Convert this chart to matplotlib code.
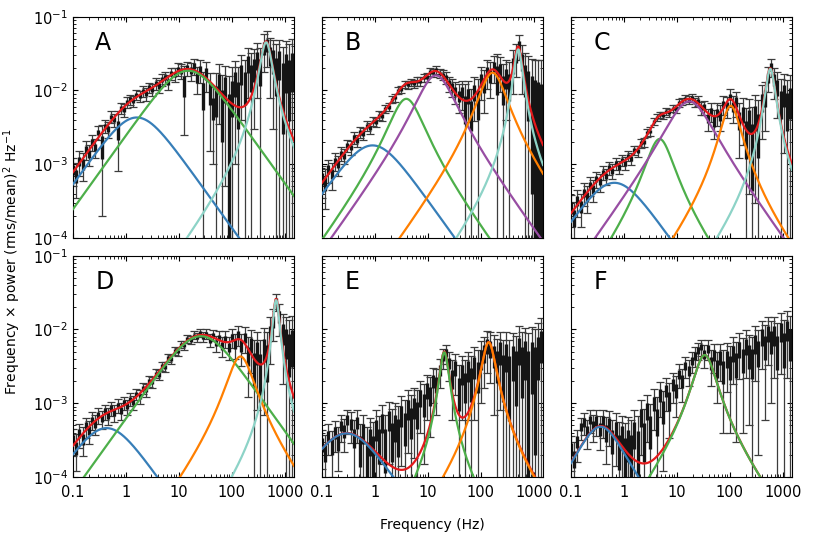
import numpy as np
import matplotlib
matplotlib.use('Agg')
import matplotlib.pyplot as plt

# frequency bins (Hz), shared by all six spectra
freq = [0.100, 0.115, 0.132, 0.151, 0.174, 0.200, 0.229, 0.263, 0.302, 0.347,
        0.398, 0.457, 0.525, 0.603, 0.692, 0.794, 0.912, 1.05, 1.20, 1.38,
        1.58, 1.82, 2.09, 2.40, 2.75, 3.16, 3.63, 4.17, 4.79, 5.50,
        6.31, 7.24, 8.32, 9.55, 11.0, 12.6, 14.5, 16.6, 19.1, 21.9,
        25.1, 28.8, 33.1, 38.0, 43.7, 50.1, 57.5, 66.1, 75.9, 87.1,
        100, 115, 132, 151, 174, 200, 229, 263, 302, 347,
        398, 457, 525, 603, 692, 794, 912, 1047, 1202, 1380]

# frequency x power and its error, in units of 1e-4
pow_A = [8.5, 7.0, 11, 10, 16, 14, 20, 17, 27, 18,
         33, 30, 44, 40, 30, 58, 55, 70, 76, 72,
         88, 84, 98, 90, 110, 104, 125, 115, 140, 150,
         130, 170, 165, 195, 185, 120, 200, 185, 215, 150,
         190, 90, 170, 95, 60, 80, 130, 60, 110, 45,
         90, 130, 80, 170, 120, 230, 160, 200, 260, 190,
         380, 420, 300, 260, 180, 240, 130, 200, 150, 210]
err_A = [3.5, 3.5, 4, 4, 4.5, 4.5, 5, 5, 5.5, 16,
         6.5, 7, 8, 8, 22, 10, 11, 12, 12, 13,
         14, 15, 16, 17, 18, 20, 22, 24, 26, 28,
         30, 32, 35, 38, 40, 95, 45, 50, 55, 60,
         65, 90, 75, 80, 50, 90, 95, 100, 105, 110,
         115, 120, 125, 130, 140, 150, 160, 170, 180, 190,
         200, 210, 220, 230, 240, 250, 260, 270, 280, 290]

pow_B = [6.5, 5.5, 8.5, 7.5, 11, 10, 14, 13, 18, 17,
         23, 21, 27, 26, 33, 31, 38, 37, 46, 45,
         57, 60, 76, 80, 100, 104, 122, 120, 130, 124,
         133, 132, 150, 152, 178, 176, 190, 170, 162, 150,
         125, 112, 98, 85, 95, 60, 85, 50, 95, 70,
         140, 120, 180, 160, 210, 150, 190, 110, 150, 120,
         220, 290, 410, 250, 150, 110, 80, 60, 45, 35]
err_B = [3, 3, 3, 3, 3, 3, 3, 3, 3.5, 3.5,
         4, 4, 4.5, 4.5, 5, 5, 5.5, 5.5, 6, 6.5,
         7, 8, 9, 10, 11, 12, 13, 14, 15, 16,
         17, 18, 19, 20, 21, 22, 23, 24, 25, 27,
         29, 31, 33, 36, 40, 62, 48, 55, 56, 75,
         65, 70, 75, 80, 85, 160, 95, 115, 110, 120,
         130, 140, 150, 160, 170, 180, 190, 200, 210, 220]

pow_C = [2.6, 1.9, 3.2, 2.7, 4.1, 3.6, 5.2, 4.6, 6.3, 5.8,
         7.8, 7.0, 9.0, 8.2, 10.2, 9.2, 11.5, 10.4, 13, 12,
         15.5, 15, 19.5, 20, 27, 28, 38, 43, 47, 46,
         52, 50, 57, 56, 68, 72, 78, 74, 80, 70,
         72, 58, 60, 42, 52, 38, 50, 46, 65, 62,
         82, 60, 70, 40, 48, 25, 40, 20, 45, 30,
         70, 80, 150, 210, 140, 110, 70, 90, 60, 75]
err_C = [1.2, 1.2, 1.3, 1.3, 1.4, 1.4, 1.5, 1.5, 1.6, 1.6,
         1.7, 1.7, 1.8, 1.8, 1.9, 1.9, 2, 2, 2.1, 2.2,
         2.3, 2.5, 2.7, 3, 3.3, 3.6, 4, 4.4, 4.8, 5.2,
         5.6, 6, 6.5, 7, 7.5, 8, 8.5, 9, 9.5, 10,
         11, 12, 13, 14, 15, 16, 17, 18, 19, 20,
         22, 24, 26, 28, 30, 33, 36, 39, 42, 45,
         48, 52, 56, 60, 64, 68, 72, 76, 80, 85]

pow_D = [3.2, 2.5, 3.9, 3.3, 4.9, 4.3, 5.9, 5.3, 6.9, 6.2,
         7.8, 6.8, 8.6, 7.5, 9.3, 8.0, 10.2, 9.1, 11.4, 10.3,
         13.4, 12.5, 16, 15.2, 20, 19.3, 25.4, 24.5, 32, 31,
         41, 40, 51, 50, 63, 61, 75, 72, 84, 78,
         90, 80, 88, 72, 84, 66, 78, 60, 75, 58,
         78, 64, 85, 60, 78, 45, 62, 32, 50, 28,
         55, 40, 90, 130, 240, 150, 90, 70, 55, 65]
err_D = [1.3, 1.3, 1.4, 1.4, 1.5, 1.5, 1.6, 1.6, 1.7, 1.7,
         1.8, 1.8, 1.9, 1.9, 2, 2, 2.1, 2.1, 2.2, 2.3,
         2.4, 2.6, 2.8, 3, 3.2, 3.4, 3.7, 4, 4.4, 4.8,
         5.2, 5.7, 6.2, 6.8, 7.4, 8, 8.6, 9.2, 9.8, 10.5,
         11, 12, 13, 14, 15, 16, 17, 18, 19, 20,
         22, 24, 26, 28, 30, 33, 36, 39, 42, 45,
         48, 52, 56, 60, 64, 68, 72, 76, 80, 85]

pow_E = [2.8, 2.2, 3.6, 2.6, 4.0, 3.0, 5.0, 4.2, 6.0, 5.2,
         3.5, 5.5, 2.5, 4.0, 1.8, 3.2, 2.2, 4.5, 3.0, 5.5,
         2.8, 6.0, 3.5, 5.0, 4.0, 7.0, 5.0, 8.5, 6.0, 9.0,
         7.5, 12, 10, 15, 13, 20, 18, 28, 42, 48,
         35, 22, 30, 15, 25, 18, 28, 20, 32, 25,
         40, 48, 60, 55, 45, 35, 50, 28, 45, 25,
         40, 30, 55, 35, 45, 25, 40, 30, 50, 65]
err_E = [1.5, 1.5, 1.6, 1.6, 1.8, 1.8, 2, 2, 2.2, 2.3,
         2.5, 2.6, 2.8, 3, 3, 3.2, 3.4, 3.6, 3.8, 4,
         4.2, 4.5, 4.8, 5, 5.3, 5.6, 6, 6.4, 6.8, 7.2,
         7.6, 8, 8.5, 9, 9.5, 10, 11, 12, 13, 14,
         15, 16, 17, 18, 19, 20, 22, 24, 26, 28,
         30, 32, 34, 36, 38, 40, 42, 44, 46, 48,
         50, 52, 55, 58, 61, 64, 67, 70, 73, 76]

pow_F = [2.4, 1.8, 3.0, 4.8, 5.5, 4.2, 6.0, 5.0, 5.8, 4.5,
         5.8, 4.0, 5.2, 3.2, 4.4, 2.5, 3.6, 2.0, 3.0, 2.2,
         4.0, 2.5, 6.5, 3.5, 8.0, 4.5, 10, 6.0, 13, 8.0,
         15, 11, 18, 15, 25, 20, 32, 28, 38, 44,
         52, 58, 46, 55, 35, 45, 30, 42, 28, 40,
         32, 48, 35, 55, 40, 60, 45, 38, 65, 50,
         80, 60, 90, 70, 85, 55, 95, 60, 100, 70]
err_F = [1.2, 1.2, 1.4, 1.6, 1.8, 1.8, 2, 2, 2.2, 2.2,
         2.4, 2.5, 2.6, 2.8, 3, 3.1, 3.2, 3.4, 3.5, 3.7,
         4, 4.2, 4.5, 4.8, 5, 5.3, 5.6, 6, 6.4, 6.8,
         7.2, 7.6, 8, 8.5, 9, 9.5, 10, 11, 12, 13,
         14, 15, 16, 17, 18, 19, 20, 22, 24, 26,
         28, 30, 32, 34, 36, 38, 40, 42, 45, 48,
         51, 54, 57, 60, 63, 66, 70, 74, 78, 82]

# Lorentzian components: (colour, centroid Hz, half width Hz, peak of nu*P)
blue, green, purple, orange, teal = '#377eb8', '#4daf4a', '#984ea3', '#ff7f00', '#8dd3c7'
comp_A = [(blue, 0, 1.6, 4.3e-3), (green, 0, 15, 1.85e-2), (teal, 430, 113, 4.5e-2)]
comp_B = [(blue, 0, 0.9, 1.8e-3), (green, 3, 2.5, 7.7e-3), (purple, 10, 10, 1.6e-2),
          (orange, 140, 90, 1.74e-2), (teal, 500, 96, 3.6e-2)]
comp_C = [(blue, 0, 0.66, 5.6e-4), (green, 4, 2.5, 2.2e-3), (purple, 10, 14, 7.1e-3),
          (orange, 95, 42, 6.2e-3), (teal, 570, 120, 1.96e-2)]
comp_D = [(blue, 0, 0.43, 4.6e-4), (green, 0, 26, 8.1e-3), (orange, 125, 75, 4.3e-3),
          (teal, 680, 98, 2.5e-2)]
comp_E = [(blue, 0, 0.29, 3.9e-4), (green, 20, 4, 4.9e-3), (orange, 135, 40, 6.7e-3)]
comp_F = [(blue, 0.2, 0.3, 4.8e-4), (green, 30, 15, 4.5e-3)]

labels = ['A', 'B', 'C', 'D', 'E', 'F']
xticks = [0.1, 1, 10, 100, 1000]
xticklabels = ['0.1', '1', '10', '100', '1000']


def lorentz(nu, nu0, width, peak):
    # nu*P(nu) of a Lorentzian, scaled so its maximum is `peak`
    nu_p = np.sqrt(nu0**2 + width**2)
    top = nu_p * width / (width**2 + (nu_p - nu0)**2)
    return peak * nu * width / (width**2 + (nu - nu0)**2) / top


panels = [(pow_A, err_A, comp_A), (pow_B, err_B, comp_B), (pow_C, err_C, comp_C),
          (pow_D, err_D, comp_D), (pow_E, err_E, comp_E), (pow_F, err_F, comp_F)]

fig = plt.figure(figsize=(8.3, 5.54), dpi=100)
lefts = [0.088, 0.388, 0.688]
bottoms = [0.5704, 0.139]
nu = np.logspace(-1, np.log10(1500), 600)

for i, (p, e, comps) in enumerate(panels):
    r, c = divmod(i, 3)
    ax = fig.add_axes([lefts[c], bottoms[r], 0.2663, 0.3995])
    ax.set_xscale('log')
    ax.set_yscale('log')
    p = np.array(p) * 1e-4
    e = np.array(e) * 1e-4
    ax.errorbar(freq, p, yerr=e, fmt='none', ecolor='#3c3c3c', elinewidth=0.9,
                capsize=2.8, capthick=0.9, zorder=2)
    ax.errorbar(freq, p, yerr=0.4 * e, fmt='none', ecolor='#151515',
                elinewidth=2.4, capsize=0, zorder=2)
    # total model first, components drawn over it
    total = sum(lorentz(nu, nu0, w, pk) for _, nu0, w, pk in comps)
    ax.plot(nu, total, color='#e41a1c', lw=1.6, zorder=3)
    for col, nu0, w, pk in comps:
        ax.plot(nu, lorentz(nu, nu0, w, pk), color=col, lw=1.6, zorder=4)

    ax.set_xlim(0.1, 1500)
    ax.set_ylim(1e-4, 1e-1)
    ax.set_xticks(xticks)
    ax.set_xticklabels(xticklabels)
    ax.tick_params(which='both', direction='in', top=True, right=True,
                   labelsize=10.5)
    ax.tick_params(axis='x', pad=6)
    if r == 0:
        ax.tick_params(labelbottom=False)
    if c > 0:
        ax.tick_params(labelleft=False)
    ax.text(0.1, 0.935, labels[i], transform=ax.transAxes, ha='left', va='top',
            fontsize=17)

fig.text(0.015, 0.527, 'Frequency × power (rms/mean)$^2$ Hz$^{-1}$',
         rotation=90, ha='center', va='center', fontsize=10)
fig.text(0.5205, 0.052, 'Frequency (Hz)', ha='center', va='center', fontsize=10)

fig.savefig('out.png', dpi=100)
